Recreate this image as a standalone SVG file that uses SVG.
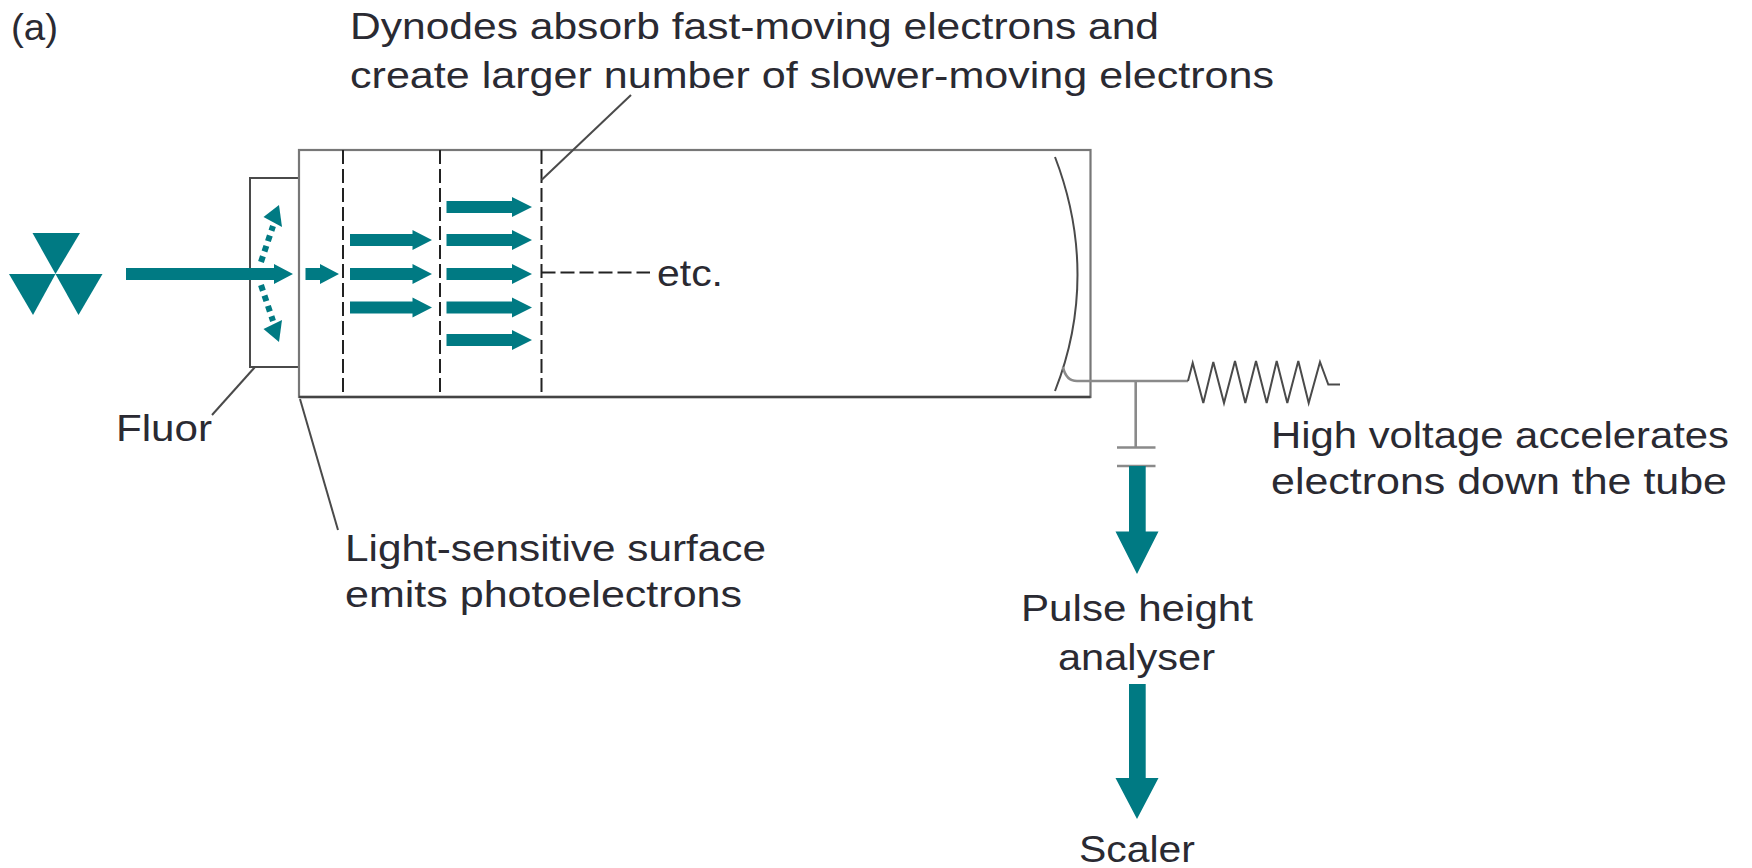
<svg xmlns="http://www.w3.org/2000/svg" width="1752" height="868" viewBox="0 0 1752 868">
<style>
text{font-family:"Liberation Sans",Arial,sans-serif;font-size:37.500px;fill:#2a2a32}
.ln{fill:none;stroke:#4a4a4a;stroke-width:2}
.gl{fill:none;stroke:#8a8a8a;stroke-width:2.6}
.dy{fill:none;stroke:#222;stroke-width:2;stroke-dasharray:14 5}
.t{fill:#007a83}
.dot{fill:none;stroke:#007a83;stroke-width:6;stroke-dasharray:6 5}
</style>
<rect width="1752" height="868" fill="#fff"/>
<g id="source">
<polygon class="t" points="32.5,233 80,233 55.5,274"/>
<polygon class="t" points="9,274 55.5,274 33,315"/>
<polygon class="t" points="55.5,274 102.5,274 78.5,315"/>
</g>
<g id="fluor"><path class="ln" d="M299 178H250V367H299"/></g>
<g id="tube">
<rect x="299" y="150" width="791.500" height="247" fill="none" stroke="#777" stroke-width="2.200"/>
<path d="M299 397H1090.500" stroke="#444" stroke-width="2.500"/>
</g>
<g id="dynodes">
<path class="dy" d="M343 150V397"/>
<path class="dy" d="M440 150V397"/>
<path class="dy" d="M541.500 150V397"/>
<path class="dy" d="M541.500 272.500H650" stroke-dasharray="13 5"/>
</g>
<g id="anode">
<path class="ln" d="M1055 157C1085 235 1085 315 1055 391"/>
</g>
<g id="connectors">
<path class="gl" d="M1063 367Q1066 381 1077 381H1188"/>
<path class="ln" d="M1188 381L1192.700 363L1203.300 403L1213.300 362L1224 403L1235 361L1245.300 403L1256 361L1266.700 403L1276.700 361L1287.300 403L1298.300 361L1308.700 403L1320 362L1328.300 384.500H1340"/>
<path class="gl" d="M1135.700 381V447.500M1117 447.500H1155.500"/>
<path class="gl" d="M1117 466H1155.500" stroke="#666"/>
<path class="ln" d="M541.500 180L631 95"/>
<path class="ln" d="M255 367L212 415"/>
<path class="ln" d="M300 399L338 530"/>
<path class="t" d="M126 268H274V264L293 274L274 284V280H126Z"/>
<path class="t" d="M305.500 268H320V264L339 274L320 284V280H305.500Z"/>
<path class="t" d="M350 234H412.500V230L432 240L412.500 250V246H350Z"/>
<path class="t" d="M350 268H412.500V264L432 274L412.500 284V280H350Z"/>
<path class="t" d="M350 301.500H412.500V297.500L432 307.500L412.500 317.500V313.500H350Z"/>
<path class="t" d="M446.500 201H512V197L532 207L512 217V213H446.500Z"/>
<path class="t" d="M446.500 234H512V230L532 240L512 250V246H446.500Z"/>
<path class="t" d="M446.500 268H512V264L532 274L512 284V280H446.500Z"/>
<path class="t" d="M446.500 301.500H512V297.500L532 307.500L512 317.500V313.500H446.500Z"/>
<path class="t" d="M446.500 334H512V330L532 340L512 350V346H446.500Z"/>
<path class="dot" d="M261 262L273 226"/>
<polygon class="t" points="279,205 263.500,217 282,227"/>
<path class="dot" d="M261 285L273 321"/>
<polygon class="t" points="279,342 263.500,329 282,320"/>
<path class="t" d="M1129 466H1145.700V531.500H1158.500L1137 574L1115.500 531.500H1129Z"/>
<path class="t" d="M1129 684H1145.700V778H1158.500L1137 819L1115.500 778H1129Z"/>
</g>
<g id="labels">
<text x="11" y="40" textLength="47" lengthAdjust="spacingAndGlyphs">(a)</text>
<text x="350" y="38.500" textLength="809" lengthAdjust="spacingAndGlyphs">Dynodes absorb fast-moving electrons and</text>
<text x="350" y="88" textLength="924" lengthAdjust="spacingAndGlyphs">create larger number of slower-moving electrons</text>
<text x="657" y="286" textLength="66" lengthAdjust="spacingAndGlyphs">etc.</text>
<text x="116" y="441" textLength="96" lengthAdjust="spacingAndGlyphs">Fluor</text>
<text x="345" y="561" textLength="421" lengthAdjust="spacingAndGlyphs">Light-sensitive surface</text>
<text x="345" y="607" textLength="397" lengthAdjust="spacingAndGlyphs">emits photoelectrons</text>
<text x="1271" y="448" textLength="458" lengthAdjust="spacingAndGlyphs">High voltage accelerates</text>
<text x="1271" y="494" textLength="456" lengthAdjust="spacingAndGlyphs">electrons down the tube</text>
<text x="1021" y="620.500" textLength="232" lengthAdjust="spacingAndGlyphs">Pulse height</text>
<text x="1058" y="670" textLength="157" lengthAdjust="spacingAndGlyphs">analyser</text>
<text x="1079" y="862" textLength="116" lengthAdjust="spacingAndGlyphs">Scaler</text>
</g>
</svg>
